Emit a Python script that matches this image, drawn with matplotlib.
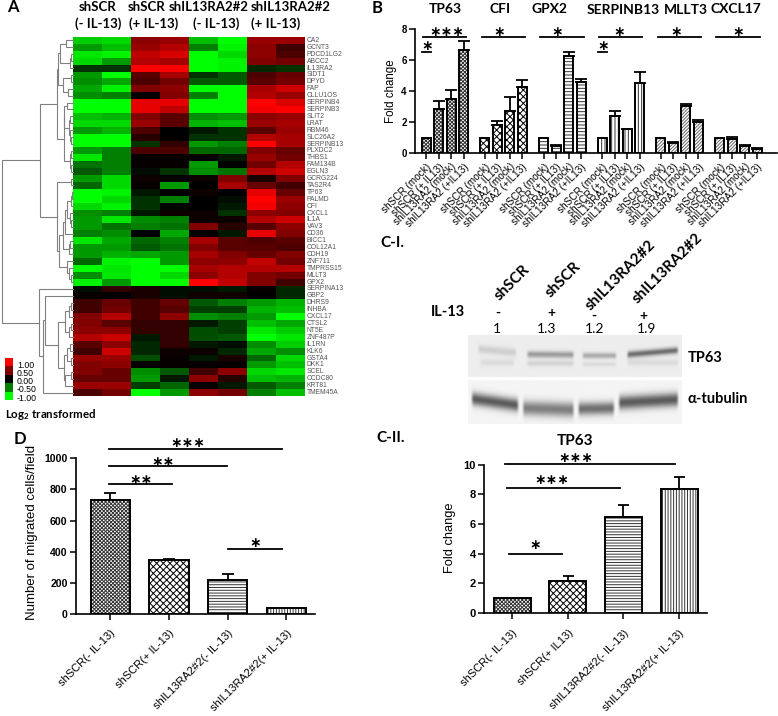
import numpy as np
import matplotlib
matplotlib.use("Agg")
import matplotlib.pyplot as plt
from matplotlib.colors import LinearSegmentedColormap

W, H = 778, 716
plt.rcParams['font.family'] = ['Liberation Sans', 'DejaVu Sans']
plt.rcParams['hatch.linewidth'] = 0.7
plt.rcParams['mathtext.default'] = 'regular'
HEAD = ['Lato', 'DejaVu Sans']

# Heatmap data
genes = ["CA2", "GCNT3", "PDCD1LG2", "ABCC2", "IL13RA2", "SIDT1", "DPYD", "FAP", "CLLU1OS",
         "SERPINB4", "SERPINB3", "SLIT2", "LRAT", "RBM46", "SLC26A2", "SERPINB13", "PLXDC2",
         "THBS1", "FAM134B", "EGLN3", "GCRG224", "TAS2R4", "TP63", "PALMD", "CFI", "CXCL1",
         "IL1A", "VAV3", "CD36", "BICC1", "COL12A1", "CDH19", "ZNF711", "TMPRSS15", "MLLT3",
         "GPX2", "SERPINA13", "GBP2", "DHRS9", "INHBA", "CXCL17", "CTSL2", "NT5E", "ZNF487P",
         "IL1RN", "KLK6", "GSTA4", "DKK1", "SCEL", "CCDC80", "KRT81", "TMEM45A"]
heat_values = [
    [-.8, -.85, .55, .6, -.75, -1, .6, .6],
    [-.6, -.75, .6, .7, -.5, -.95, .55, .25],
    [-.9, -.95, .75, .85, -1, -.85, .55, .3],
    [-.85, -.6, .7, .65, -1, -.95, .5, .45],
    [-.2, -.2, 1, 1, -1, -.95, -.15, -.2],
    [-.6, -1, .35, .65, -.2, -.35, .3, .4],
    [-.55, -.65, .3, .45, -.35, -.35, .35, .45],
    [-.65, -.95, .5, .55, -1, -1, .65, .8],
    [-.55, -.5, .03, .5, -.5, -1, .7, .6],
    [-1, -1, .9, .9, -1, -1, 1, .85],
    [-1, -1, .9, .75, -1, -1, .95, 1],
    [-.75, -.7, .5, .35, -.55, -.6, .55, .6],
    [-.85, -.85, .6, .35, -.7, -.75, .6, .65],
    [-.6, -.7, .3, 0, -.1, -.2, .35, .6],
    [-1, -1, .15, 0, -.2, -.2, .7, .65],
    [-1, -1, -.2, .2, -.6, -.5, 1, .65],
    [-.6, -.5, .3, .3, -.4, -.4, .5, .4],
    [-.9, -.5, .03, .03, .03, -.1, .6, .45],
    [-.45, -.5, .03, .03, -.6, 0, .45, .7],
    [-.35, -.5, -.05, -.2, -.55, -.45, .7, .8],
    [-.6, -.85, .05, .03, .05, .5, .1, .5],
    [-.4, -.85, .03, -.6, 0, .65, .4, .25],
    [-1, -.95, -.1, 0, .05, 0, .9, .4],
    [-1, -.85, -.2, -.5, 0, -.05, 1, .6],
    [-.85, -.95, -.2, -.03, 0, -.1, .95, .55],
    [-.55, -.5, -.1, .05, .05, -.2, .55, .5],
    [-.6, -.9, -.55, -.5, .05, .05, .7, .8],
    [-.6, -.45, -.5, -.45, .5, .15, .35, .55],
    [-.5, -.55, 0, -.65, .03, -.1, .9, .5],
    [-.9, -.65, -.4, -.5, .65, .35, .3, .35],
    [-.6, -.6, -.35, -.45, .5, .35, .35, .3],
    [-.6, -.7, -.65, -.6, .65, .5, .4, .5],
    [-.4, -.95, -1, -.6, .55, .55, .75, .45],
    [-1, -.9, -1, -1, .65, .7, .7, .7],
    [-.55, -.9, -1, -.85, .55, .7, .5, .45],
    [-.95, -.6, -1, -1, 1, .75, .5, .25],
    [-.05, .2, .1, -.05, -.05, -.1, .03, -.15],
    [.03, 0, .1, -.05, .07, .07, 0, -.15],
    [.25, .4, .25, .4, -.35, -.5, -.6, -.7],
    [.25, .45, .25, .35, -.25, -.25, -.7, -.75],
    [.5, .7, .25, .55, -.55, -.5, -.6, -1],
    [.5, .35, .2, .2, -.1, -.25, -.75, -.65],
    [.55, .55, .2, .2, -.3, -.25, -.9, -.8],
    [.7, .8, -.1, .2, -.3, -.35, -1, -.9],
    [.35, .55, -.15, .2, -.1, -.05, -.55, -.8],
    [.25, .8, -.15, .05, .05, -.15, -.65, -.55],
    [.6, .6, -.3, .03, -.1, .1, -.4, -.85],
    [.5, .55, .03, .03, .03, .03, -.6, -.75],
    [.5, .4, -.55, -.35, .25, .55, -.85, -.9],
    [.4, .4, -.6, -.1, .55, .15, -.75, -.7],
    [.6, .6, -.25, -.4, .03, -.1, -.35, -.5],
    [.3, .45, -1, -.6, .55, .45, -.5, -.75],
]
scale_ticks = [1.0, 0.5, 0.0, -0.5, -1.0]

# Gene tree, nodes are (height, upper, lower), leaves are row numbers
tree_a1 = (16, (15, (13, (7, 0, 1), (3, (2, 2, 3), 4)), (10, (2, 5, 6), (5, 7, 8))),
           (9, (9, (6, 9, 10), (4, (3, 11, 12), (3, 13, (2, 14, 15)))),
            (3, (2, 16, 17), (2, 18, 19))))
tree_a2 = (16, (2, 20, 21),
           (14, (10, (8, (6, (2, (1, 22, 23), 24), (3, 25, (2, 26, 27))), 28), (4, (3, 29, 30), 31)),
            (6, 32, (4, 33, (2, 34, 35)))))
tree_b = (34, 36, (30, (28, 37, (15, (8, (4, (2, 38, 39), 40), (4, (2, 41, 42), 43)),
                                 (9, (6, (3, 44, 45), (2, 46, 47)), (8, (2, 48, 49), 50)))), 51))
gene_tree = (71, (33, tree_a1, tree_a2), tree_b)

# Panel B
b_genes = ["TP63", "CFI", "GPX2", "SERPINB13", "MLLT3", "CXCL17"]
b_labels = ["shSCR (mock)", "shSCR (+ IL13)", "shIL13RA2 (mock)", "shIL13RA2 (+IL13)"]
b_values = [[1, 2.85, 3.5, 6.65], [1, 1.8, 2.7, 4.25], [1, .5, 6.3, 4.6],
            [1, 2.4, 1.55, 4.55], [1, .65, 3.05, 2.05], [1, .95, .5, .3]]
b_errors = [[0, .5, .6, .6], [0, .27, .9, .47], [0, .03, .25, .22],
            [0, .35, .02, .7], [0, .08, .1, .08], [0, .07, .05, .04]]
b_hatches = ['xxxxxxxxx', 'xxxxx', '-----', '|||||', '//////////', '//////////']
b_hatch_colors = ['#333333', 'black', '#333333', '#333333', '#666666', '#666666']
b_stars = [3, 1, 1, 1, 1, 1]
b_star_offsets = [1.63, 1.12, 1.1, 1.36, 1.26, 1.5]

# Panel C-II
c_labels = ["shSCR(- IL-13)", "shSCR(+ IL13)", "shIL13RA2#2(- IL-13)", "shIL13RA2#2(+ IL-13)"]
c_values = [1, 2.15, 6.45, 8.35]
c_errors = [0, .3, .8, .85]

# Panel D
d_labels = ["shSCR(- IL-13)", "shSCR(+ IL-13)", "shIL13RA2#2(- IL-13)", "shIL13RA2#2(+ IL-13)"]
d_values = [735, 345, 220, 40]
d_errors = [40, 8, 40, 0]
four_hatches = ['xxxxxxxxx', 'xxxxx', '------', '||||||']
four_hatch_colors = ['#333333', 'black', '#333333', '#333333']

# Blot lanes: x from, x to, y left, y right, thickness, darkness (fractions of the picture)
tp63_lanes = [(.04, .23, .33, .42, .10, .12), (.27, .50, .46, .47, .08, .32), (.53, .70, .49, .49, .07, .26),
              (.74, .99, .47, .36, .08, .50), (.05, .22, .66, .66, .08, .07), (.27, .50, .68, .68, .07, .10),
              (.53, .70, .70, .70, .06, .07), (.74, .99, .66, .66, .08, .07)]
tubulin_lanes = [(.01, .24, .42, .58, .15, .60), (.25, .50, .64, .68, .17, .46),
                 (.51, .69, .66, .64, .15, .52), (.70, .99, .52, .44, .16, .60)]
blot_lane_labels = ["shSCR", "shSCR", "shIL13RA2#2", "shIL13RA2#2"]
il13_signs = ["-", "+", "-", "+"]
blot_ratios = ["1", "1.3", "1.2", "1.9"]


def px_axes(x0, y0, x1, y1):
    return fig.add_axes([x0 / W, 1 - y1 / H, (x1 - x0) / W, (y1 - y0) / H])


def draw_tree(node, x_edge, y_top, row_h):
    if not isinstance(node, tuple):
        return x_edge, y_top + (node + .5) * row_h
    h, upper, lower = node
    x1, y1 = draw_tree(upper, x_edge, y_top, row_h)
    x2, y2 = draw_tree(lower, x_edge, y_top, row_h)
    x = x_edge - h
    over.plot([x1, x, x, x2], [y1, y1, y2, y2], color='#808080', lw=.8, solid_joinstyle='miter')
    return x, (y1 + y2) / 2


def bars(ax, xs, vals, errs, hatches, hatch_colors, width):
    for x, v, e, h, hc in zip(xs, vals, errs, hatches, hatch_colors):
        ax.bar(x, v, width, color='white', edgecolor=hc, lw=0, hatch=h, zorder=2)
        ax.bar(x, v, width, fill=False, edgecolor='black', lw=1.4, zorder=2.5)
        if e > 0:
            ax.errorbar(x, v, yerr=[[0], [e]], color='black', capsize=width * 6, elinewidth=1.3,
                        capthick=1.3, zorder=1)


def style(ax, ylabel, yticks, ylabel_size, tick_size, label_xy):
    for s in ['top', 'right']:
        ax.spines[s].set_visible(False)
    for s in ['left', 'bottom']:
        ax.spines[s].set_linewidth(1.2)
    ax.set_yticks(yticks)
    ax.tick_params(axis='both', width=1.1, length=4)
    ax.tick_params(axis='y', labelsize=tick_size, pad=2)
    for t in ax.get_yticklabels():
        t.set_fontweight('bold')
    ax.set_ylabel(ylabel, fontsize=ylabel_size)
    ax.yaxis.set_label_coords(*label_xy)


def sig(ax, x0, x1, y, star_x, star_y, stars, size=10):
    ax.plot([x0, x1], [y, y], color='black', lw=1.3, clip_on=False, zorder=3)
    ax.text(star_x, star_y, "\u2217" * stars, fontsize=size,
            family='DejaVu Sans', fontweight='bold', ha='center', va='center', clip_on=False)


def blot(ax, lanes, background):
    rows, cols = 60, 220
    yy, xx = np.mgrid[0:1:rows * 1j, 0:1:cols * 1j]
    img = np.full((rows, cols), background)
    for x0, x1, yl, yr, th, dark in lanes:
        t = np.clip((xx - x0) / (x1 - x0), 0, 1)
        center = yl + (yr - yl) * t
        across = np.exp(-((yy - center) / th) ** 2)
        along = np.clip((xx - x0) / .015, 0, 1) * np.clip((x1 - xx) / .015, 0, 1)
        img = img - dark * across * along
    ax.imshow(img, cmap='gray', vmin=0, vmax=1, aspect='auto', interpolation='bilinear')
    ax.axis('off')


fig = plt.figure(figsize=(W / 100, H / 100), dpi=100)

# Overlay in pixel coordinates for free text and the tree
over = fig.add_axes([0, 0, 1, 1], zorder=5)
over.set_xlim(0, W)
over.set_ylim(H, 0)
over.axis('off')
over.patch.set_alpha(0)


def label(x, y, s, size=10, weight='bold', family=None, rotation=0, ha='center', color='black'):
    over.text(x, y, s, fontsize=size, fontweight=weight, family=family or HEAD, rotation=rotation,
              ha=ha, va='center', color=color, rotation_mode='anchor' if rotation else 'default')


# Panel A
rg = LinearSegmentedColormap.from_list('rg', ['#00ff00', '#000000', '#ff0000'])
ax_heat = px_axes(73.3, 37, 305, 396)
ax_heat.imshow(np.array(heat_values), cmap=rg, vmin=-1, vmax=1, aspect='auto', interpolation='nearest')
ax_heat.axis('off')
row_h = (396 - 37) / len(genes)
for i, g in enumerate(genes):
    label(306.5, 37 + (i + .5) * row_h, g, size=4.9, weight='normal', family='Liberation Sans', ha='left', color='#555555')
draw_tree(gene_tree, 73, 37, row_h)

ax_scale = px_axes(5, 358, 13, 400)
ax_scale.imshow(np.array(scale_ticks).reshape(-1, 1), cmap=rg, vmin=-1, vmax=1, aspect='auto', interpolation='nearest')
ax_scale.axis('off')
for i, v in enumerate(scale_ticks):
    label(17, 365 + i * 8.3, f"{v:.2f}", size=6.3, weight='normal', family='Liberation Sans', ha='left')
label(5, 414, r"Log$_{2}$ transformed", size=8.3, ha='left')

label(13, 7, "A", size=12)
for x, y, s in [(98, 7, "shSCR"), (147, 7, "shSCR"), (209, 7, "shIL13RA2#2"), (291, 7, "shIL13RA2#2"),
                (98, 24, "(- IL-13)"), (154, 24, "(+ IL-13)"), (216, 24, "(- IL-13)"), (276, 24, "(+ IL-13)")]:
    label(x, y, s, size=9.5)

# Panel B
ax_b = px_axes(415, 29.3, 777, 153.3)
start_gap = 4.7
xs_b, labs_b = [], []
for g in range(len(b_genes)):
    xs = [g * start_gap + j for j in range(4)]
    bars(ax_b, xs, b_values[g], b_errors[g], [b_hatches[g]] * 4, [b_hatch_colors[g]] * 4, .72)
    xs_b += xs
    labs_b += b_labels
    sig(ax_b, g * start_gap - .25, g * start_gap + 3.2, 7.5, g * start_gap + b_star_offsets[g], 7.85, b_stars[g])
sig(ax_b, -.3, .35, 6.55, .05, 6.9, 1)
sig(ax_b, 3 * start_gap - .3, 3 * start_gap + .35, 6.55, 3 * start_gap + .05, 6.9, 1)
ax_b.set_xlim(-.9, 28.1)
ax_b.set_ylim(0, 8)
style(ax_b, "Fold change", [0, 2, 4, 6, 8], 8.3, 7, (-.05, .502))
ax_b.set_xticks(xs_b)
ax_b.set_xticklabels(labs_b, rotation=45, ha='right', rotation_mode='anchor', fontsize=7.2)
ax_b.tick_params(axis='x', pad=2)
label(377, 8, "B", size=12)
for x, y, s in [(445, 9, "TP63"), (500, 9, "CFI"), (550, 9, "GPX2"), (623, 10, "SERPINB13"),
                (686, 10, "MLLT3"), (736, 9, "CXCL17")]:
    label(x, y, s, size=10)

# Panel C-I
ax_t = px_axes(467.7, 335, 681, 376.7)
blot(ax_t, tp63_lanes, .93)
ax_u = px_axes(467.7, 380, 681, 424)
blot(ax_u, tubulin_lanes, .96)
label(392, 243, "C-I.", size=11)
for x, y, s in zip([512, 563, 621, 668], [283, 280, 275, 268], blot_lane_labels):
    over.text(x, y, s, fontsize=11, fontweight='bold', family=HEAD, rotation=45, ha='center', va='center')
label(448, 312, "IL-13", size=10.5)
for x, y, s in zip([498, 551, 594, 643], [313, 313, 316, 316], il13_signs):
    label(x, y, s, size=10)
for x, s in zip([497, 547, 595, 647], blot_ratios):
    label(x, 329, s, size=10, weight='normal')
label(688, 358, "TP63", size=10.5, ha='left')
label(688, 399, "\u03b1-tubulin", size=10.5, ha='left')

# Panel C-II
ax_c = px_axes(484.3, 464.7, 707, 612.7)
bars(ax_c, range(4), c_values, c_errors, four_hatches, four_hatch_colors, .66)
sig(ax_c, -.13, 2.92, 10.02, 1.14, 10.43, 3)
sig(ax_c, -.09, 1.93, 8.45, .72, 8.96, 3)
sig(ax_c, -.06, .89, 3.96, .42, 4.57, 1)
ax_c.set_xlim(-.5, 3.5)
ax_c.set_ylim(0, 10)
style(ax_c, "Fold change", [0, 2, 4, 6, 8, 10], 9.3, 8, (-.127, .505))
ax_c.set_xticks(range(4))
ax_c.set_xticklabels(c_labels, rotation=45, ha='right', rotation_mode='anchor', fontsize=8)
ax_c.tick_params(axis='x', pad=7)
label(575, 441, "TP63", size=11)
label(391, 438, "C-II.", size=11)

# Panel D
ax_d = px_axes(76, 458.3, 315, 614)
bars(ax_d, range(4), d_values, d_errors, four_hatches, four_hatch_colors, .67)
sig(ax_d, -.03, 2.92, 1058, 1.32, 1100, 3)
sig(ax_d, -.03, 1.99, 953, .9, 978, 2)
sig(ax_d, -.02, 1.06, 835, .53, 860, 2)
sig(ax_d, 2.0, 2.92, 420, 2.47, 454, 1)
ax_d.set_xlim(-.585, 3.49)
ax_d.set_ylim(0, 1000)
style(ax_d, "Number of migrated cells/field", [0, 200, 400, 600, 800, 1000], 9.5, 7.6, (-.16, .527))
ax_d.set_xticks(range(4))
ax_d.set_xticklabels(d_labels, rotation=45, ha='right', rotation_mode='anchor', fontsize=8)
ax_d.tick_params(axis='x', pad=6)
label(20, 439, "D", size=12)

fig.savefig("out.png", dpi=100)
